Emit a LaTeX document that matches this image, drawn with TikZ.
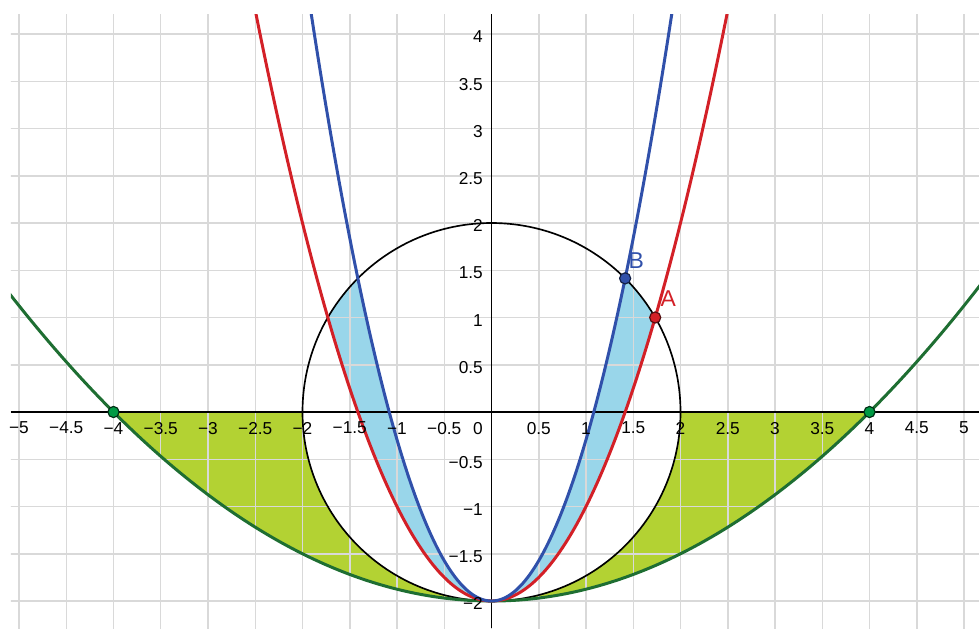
\documentclass[tikz,border=0pt]{standalone}
\usepackage{fontspec}
\setmainfont{Liberation Sans}
\usetikzlibrary{calc}
\definecolor{gfillc}{HTML}{B3D233}
\definecolor{bfillc}{HTML}{99D6EA}
\definecolor{redc}{HTML}{D32027}
\definecolor{bluec}{HTML}{3050AA}
\definecolor{greenc}{HTML}{1E6E32}
\definecolor{gridc}{HTML}{D9D9D9}
\definecolor{ptgreen}{HTML}{009A44}
\tikzset{
  gfill/.style={fill=gfillc},
  bfill/.style={fill=bfillc},
  gridl/.style={draw=gridc,line width=0.45pt},
  axisl/.style={draw=black,line width=0.55pt},
  circl/.style={draw=black,line width=0.5pt},
  curve/.style={line width=0.9pt,samples=160,smooth},
  ptnode/.style={circle,inner sep=0pt,minimum size=0.118cm,line width=0.35pt},
  tick/.style={inner sep=0pt,font=\fontsize{5.2}{6}\selectfont},
  ptlabel/.style={inner sep=0pt,anchor=south west,font=\fontsize{6.9}{7.5}\selectfont}
}
\begin{document}
\begin{tikzpicture}[x=1cm,y=1cm]
\useasboundingbox (-5.2011,-2.2857) rectangle (5.1587,4.3598);
\begin{scope}
\clip (-5.0847,-2.2857) rectangle (5.1587,4.2116);
% green regions
\fill[gfill] (-4,0) -- (-2,0) arc[start angle=180,end angle=270,radius=2]
  -- plot[domain=0:-4,samples=80] (\x,{\x*\x/8-2}) -- cycle;
\fill[gfill] (4,0) -- (2,0) arc[start angle=0,end angle=-90,radius=2]
  -- plot[domain=0:4,samples=80] (\x,{\x*\x/8-2}) -- cycle;
% blue regions
\fill[bfill] (0,-2) -- plot[domain=0:1.41421,samples=80] (\x,{1.70711*\x*\x-2})
  -- (45:2) arc[start angle=45,end angle=30,radius=2]
  -- plot[domain=1.73205:0,samples=80] (\x,{\x*\x-2}) -- cycle;
\fill[bfill] (0,-2) -- plot[domain=0:-1.41421,samples=80] (\x,{1.70711*\x*\x-2})
  -- (135:2) arc[start angle=135,end angle=150,radius=2]
  -- plot[domain=-1.73205:0,samples=80] (\x,{\x*\x-2}) -- cycle;
% grid
\draw[gridl] (-5.5,-2.5) grid[step=0.5] (5.5,4.5);
% axes
\draw[axisl] (-5.0847,0) -- (5.1587,0);
\draw[axisl] (0,-2.2857) -- (0,4.2116);
% circle
\draw[circl] (0,0) circle[radius=2];
% curves
\draw[curve,greenc] plot[domain=-5.2:5.2] (\x,{\x*\x/8-2});
\draw[curve,redc] plot[domain=-2.55:2.55] (\x,{\x*\x-2});
\draw[curve,bluec] plot[domain=-1.96:1.96] (\x,{1.70711*\x*\x-2});
\end{scope}
% tick labels x
\foreach \v/\t in {-5/−5,-4.5/−4.5,-4/−4,-3.5/−3.5,-3/−3,-2.5/−2.5,-2/−2,-1.5/−1.5,-1/−1,-0.5/−0.5,0.5/0.5,1/1,1.5/1.5,2/2,2.5/2.5,3/3,3.5/3.5,4/4,4.5/4.5,5/5}
  \node[tick] (xl\v) at (\v,-0.17) {\t};
\node[tick,anchor=east] (zl) at (-0.085,-0.17) {0};
% tick labels y
\foreach \v/\t in {-2/−2,-1.5/−1.5,-1/−1,-0.5/−0.5,0.5/0.5,1/1,1.5/1.5,2/2,2.5/2.5,3/3,3.5/3.5,4/4}
  \node[tick,anchor=east] (yl\v) at (-0.085,\v-0.03) {\t};
% points
\node[ptnode,fill=ptgreen,draw=black!70!ptgreen] (P1) at (-4,0) {};
\node[ptnode,fill=ptgreen,draw=black!70!ptgreen] (P2) at (4,0) {};
\node[ptnode,fill=redc,draw=black!60!redc] (A) at (1.73205,1) {};
\node[ptnode,fill=bluec,draw=black!60!bluec] (B) at (1.41421,1.41421) {};
\node[ptlabel,text=redc] (Al) at ($(A)+(0.05,0.106)$) {A};
\node[ptlabel,text=bluec] (Bl) at ($(B)+(0.03,0.095)$) {B};
\end{tikzpicture}
\end{document}
